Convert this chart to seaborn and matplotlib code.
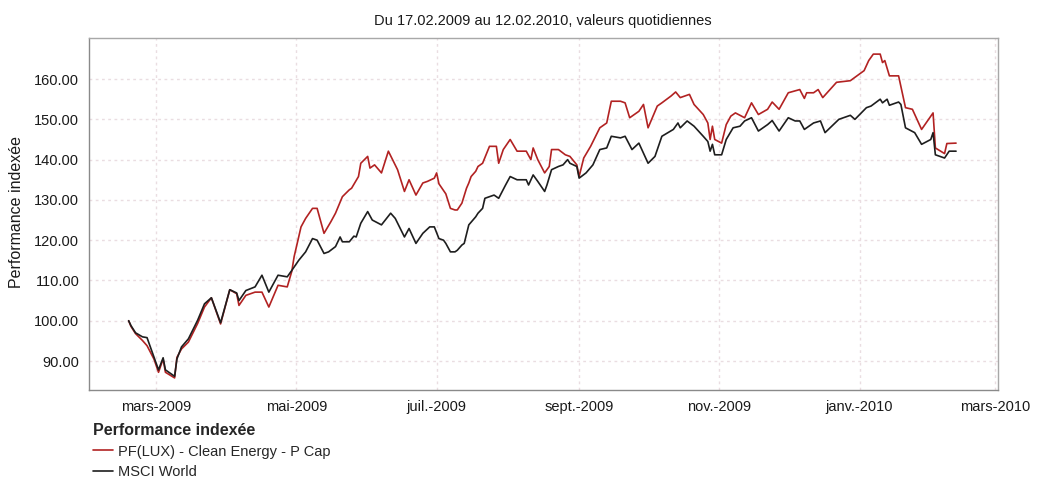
import matplotlib
matplotlib.use("Agg")
import matplotlib.pyplot as plt
import numpy as np
import pandas as pd
import seaborn as sns
from matplotlib.lines import Line2D

# ---------------- data ----------------
start_date = "2009-02-17"
series_names = ["PF(LUX) - Clean Energy - P Cap", "MSCI World"]
series_colors = ["#b22222", "#1e1e1e"]

# day offsets from start date / indexed performance values
clean_days = [0, 1, 3, 6, 8, 11, 13, 15, 16, 20, 21, 23, 26, 30, 33, 36, 40, 44, 47, 48,
              51, 55, 58, 61, 65, 69, 71, 72, 75, 77, 80, 82, 85, 88, 90, 93, 96, 97, 100, 101,
              104, 105, 107, 110, 113, 117, 120, 122, 125, 128, 130, 133, 134, 135, 138, 140, 142, 143, 145, 147,
              148, 149, 151, 152, 154, 157, 160, 161, 163, 166, 169, 173, 175, 176, 178, 181, 183, 184, 187, 190,
              192, 195, 196, 198, 201, 205, 208, 210, 214, 216, 218, 222, 224, 226, 230, 232, 236, 238, 240, 244,
              246, 250, 252, 253, 254, 255, 258, 260, 262, 264, 268, 271, 274, 278, 280, 283, 287, 292, 294, 295,
              298, 300, 302, 308, 314, 320, 322, 324, 327, 328, 329, 331, 335, 338, 341, 345, 350, 351, 355, 356,
              360]
clean_vals = [100.0, 98.6, 96.8, 95.1, 93.8, 90.5, 87.2, 90.5, 87.2, 85.8, 90.9, 93.0, 94.7, 99.3, 103.4, 105.7, 99.2, 107.7, 106.7, 103.8,
              106.3, 107.1, 107.1, 103.4, 108.8, 108.4, 112.3, 115.9, 123.3, 125.4, 127.9, 127.9, 121.7, 124.6, 126.7, 130.8, 132.5, 132.9, 135.8, 139.1,
              140.8, 137.9, 138.7, 136.7, 142.1, 137.5, 132.1, 135.0, 131.2, 134.2, 134.6, 135.4, 136.7, 134.0, 131.5, 127.9, 127.5, 127.5, 129.2, 132.9,
              134.2, 135.8, 137.1, 138.3, 139.1, 143.3, 143.3, 139.1, 142.5, 145.0, 142.1, 142.1, 140.0, 142.9, 140.0, 136.7, 138.3, 142.5, 142.5, 141.2,
              140.8, 138.7, 135.8, 140.4, 143.3, 147.9, 149.1, 154.5, 154.5, 154.1, 150.4, 152.0, 153.7, 147.9, 153.3, 154.1, 155.8, 156.8, 155.4, 156.2,
              153.7, 151.2, 149.1, 145.0, 148.3, 145.0, 144.1, 148.7, 150.8, 151.6, 150.4, 154.1, 151.2, 152.5, 154.3, 152.5, 156.6, 157.4, 155.2, 156.6,
              156.6, 157.4, 155.4, 159.2, 159.6, 162.1, 164.6, 166.2, 166.2, 164.1, 164.6, 160.8, 160.8, 152.9, 152.5, 147.5, 151.6, 142.9, 141.5, 144.0,
              144.1]

msci_days = [0, 1, 3, 6, 8, 11, 13, 15, 16, 20, 21, 23, 26, 30, 33, 36, 40, 44, 47, 48,
             51, 55, 58, 61, 65, 69, 71, 74, 77, 80, 82, 85, 87, 90, 92, 93, 96, 98, 99, 101,
             104, 106, 110, 114, 116, 120, 122, 125, 128, 131, 133, 135, 137, 138, 140, 142, 143, 145, 146, 148,
             151, 152, 154, 155, 159, 161, 164, 166, 169, 173, 174, 176, 178, 181, 182, 184, 187, 189, 191, 192,
             195, 196, 199, 202, 205, 208, 210, 214, 216, 219, 222, 226, 229, 232, 237, 239, 240, 243, 246, 250,
             252, 253, 254, 255, 258, 260, 263, 266, 268, 271, 274, 278, 280, 283, 287, 290, 292, 294, 298, 301,
             303, 309, 314, 316, 321, 323, 327, 328, 330, 331, 335, 336, 338, 342, 345, 349, 350, 351, 355, 357,
             360]
msci_vals = [100.0, 98.8, 97.0, 96.0, 95.8, 91.0, 87.8, 90.8, 87.8, 86.2, 90.5, 93.5, 95.5, 100.1, 104.2, 105.7, 99.5, 107.7, 106.9, 105.0,
             107.5, 108.4, 111.3, 107.1, 111.3, 110.9, 112.5, 115.0, 117.1, 120.4, 120.0, 116.7, 117.1, 118.4, 120.8, 119.6, 119.6, 121.0, 120.8, 124.2,
             127.1, 125.0, 123.8, 126.7, 125.4, 120.8, 122.9, 119.2, 121.7, 123.3, 123.3, 120.4, 120.0, 119.2, 117.1, 117.1, 117.5, 118.8, 119.2, 123.8,
             125.8, 126.7, 127.9, 130.4, 131.2, 130.4, 133.7, 135.8, 135.0, 135.0, 133.7, 136.2, 134.6, 132.1, 133.7, 137.5, 138.3, 138.7, 140.0, 139.1,
             138.3, 135.4, 136.7, 138.7, 142.5, 142.9, 145.8, 145.4, 145.8, 142.5, 144.1, 139.1, 140.8, 145.8, 147.5, 149.1, 147.9, 149.6, 148.3, 145.8,
             144.5, 142.1, 143.8, 141.2, 141.2, 145.0, 147.9, 148.3, 149.6, 150.4, 147.1, 148.7, 149.7, 147.1, 150.4, 149.6, 149.6, 147.5, 149.1, 149.6,
             146.7, 150.0, 151.0, 150.0, 152.9, 153.3, 155.0, 154.1, 155.0, 153.5, 154.3, 153.7, 147.9, 146.7, 143.8, 145.0, 146.7, 141.2, 140.4, 142.1,
             142.1]

tick_dates = ["2009-03-01", "2009-05-01", "2009-07-01", "2009-09-01", "2009-11-01", "2010-01-01", "2010-03-01"]
tick_labels = ["mars-2009", "mai-2009", "juil.-2009", "sept.-2009", "nov.-2009", "janv.-2010", "mars-2010"]
y_ticks = [90, 100, 110, 120, 130, 140, 150, 160]

title_text = "Du 17.02.2009 au 12.02.2010, valeurs quotidiennes"
y_label = "Performance indexée"
legend_title = "Performance indexée"

# ---------------- frame ----------------
t0 = pd.Timestamp(start_date)
df = pd.concat([
    pd.DataFrame({"date": t0 + pd.to_timedelta(clean_days, unit="D"), "value": clean_vals, "series": series_names[0]}),
    pd.DataFrame({"date": t0 + pd.to_timedelta(msci_days, unit="D"), "value": msci_vals, "series": series_names[1]}),
], ignore_index=True)

sns.set_style("white")
plt.rcParams["font.family"] = ["Liberation Sans", "DejaVu Sans"]

fig = plt.figure(figsize=(10.42, 4.86), dpi=100)
ax = fig.add_axes([89 / 1042, 1 - 390 / 486, (998 - 89) / 1042, (390 - 38) / 486])

sns.lineplot(data=df, x="date", y="value", hue="series", hue_order=series_names,
             palette=series_colors, linewidth=1.2, legend=False, ax=ax, estimator=None)

ax.set_xlim(pd.Timestamp("2009-01-30 18:00"), pd.Timestamp("2010-03-02 06:00"))
ax.set_ylim(82.8, 170.2)
ax.set_xticks(pd.to_datetime(tick_dates))
ax.set_xticklabels(tick_labels)
ax.set_yticks(y_ticks)
ax.set_yticklabels([f"{v:.2f}" for v in y_ticks])
ax.tick_params(axis="both", length=0, labelsize=10.5, colors="#1a1a1a")
ax.tick_params(axis="x", pad=7)
ax.tick_params(axis="y", pad=7)
ax.set_xlabel("")
ax.set_ylabel("")

ax.grid(True, color="#eadde1", linestyle=(0, (2, 2.5)), linewidth=1.0)
for s in ax.spines.values():
    s.set_visible(True)
    s.set_color("#a8a8a8")
    s.set_linewidth(1.0)
ax.spines["left"].set_color("#8a8a8a")
ax.spines["bottom"].set_color("#8a8a8a")

fig.text(543 / 1042, 1 - 21 / 486, title_text, ha="center", va="center", fontsize=10.5, color="#1a1a1a")
fig.text(17 / 1042, 1 - 212 / 486, y_label, rotation=90, ha="center", va="center", fontsize=11.5, color="#1a1a1a")

handles = [Line2D([0], [0], color=c, linewidth=1.2) for c in series_colors]
leg = fig.legend(handles, series_names, loc="upper left", bbox_to_anchor=(93 / 1042, 1 - 423 / 486),
                 frameon=False, borderpad=0, borderaxespad=0, fontsize=10.5,
                 handlelength=1.4, handletextpad=0.3, labelspacing=0.45,
                 title=legend_title, title_fontproperties={"weight": "bold", "size": 11.5})
leg._legend_box.align = "left"

fig.savefig("out.png", dpi=100)
